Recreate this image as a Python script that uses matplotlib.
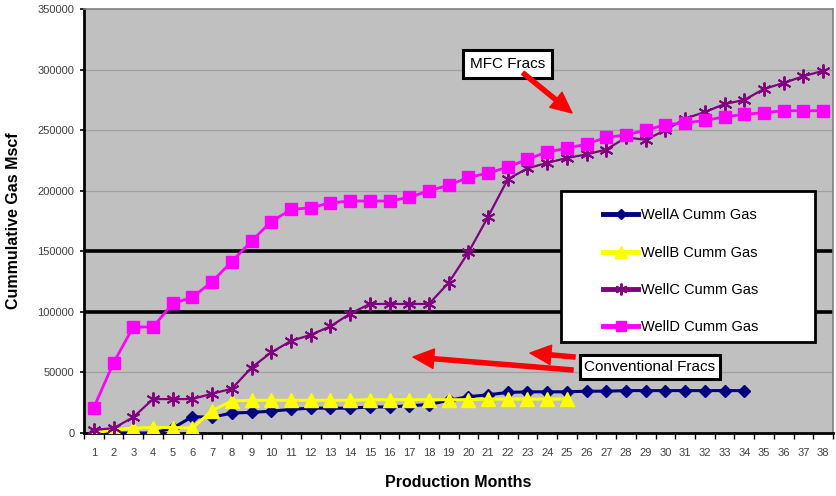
import matplotlib
matplotlib.use("Agg")
import matplotlib.pyplot as plt
from matplotlib.patches import Rectangle
from matplotlib.ticker import MultipleLocator, FixedLocator

plt.rcParams['font.family'] = ['Liberation Sans', 'DejaVu Sans']

# Cumulative gas production (Mscf) by production month
well_a = [0, 0, 0, 0, 4000, 13500, 13000, 16500, 17000, 18000, 19500, 20500,
          20500, 20500, 21500, 21500, 22500, 23500, 27000, 30000, 31500, 33500,
          34000, 34000, 34000, 34500, 34500, 35000, 35000, 35000, 35000, 35000,
          35000, 35000]
well_b = [0, 2500, 4000, 4500, 4500, 4000, 18500, 26500, 27000, 27000, 27000,
          27000, 27000, 27000, 27500, 27500, 27500, 27500, 27500, 27500, 28000,
          28000, 28000, 28000, 28000]
well_c = [2500, 4000, 13000, 28000, 28000, 28000, 32500, 36500, 54000, 66500,
          76000, 81000, 88000, 98500, 106500, 106500, 106500, 106500, 124000,
          149000, 178500, 209500, 218500, 223000, 227000, 230000, 234000, 244000,
          242000, 250000, 259500, 265000, 271500, 275000, 284000, 289000, 294500,
          299000]
well_d = [21000, 58000, 87500, 87500, 107000, 112000, 125000, 141500, 158500,
          174500, 184500, 186000, 190000, 191500, 191500, 191500, 194500, 200000,
          204500, 211000, 214500, 219500, 226000, 232000, 235000, 238500, 244000,
          246000, 250000, 254500, 256000, 258000, 261000, 263000, 264500, 266000,
          266000, 266000]

series_names = ["WellA Cumm Gas", "WellB Cumm Gas", "WellC Cumm Gas", "WellD Cumm Gas"]
month_labels = [str(m) for m in range(1, 39)]

fig = plt.figure(figsize=(8.36, 4.96), dpi=100)
ax = fig.add_axes([84 / 836, 63 / 496, 749 / 836, 424 / 496])
ax.set_facecolor('#C0C0C0')

# horizontal grid: thin grey lines, two heavy black ones
for v in [50000, 200000, 250000, 300000]:
    ax.axhline(v, color='#A0A0A0', lw=0.9, zorder=1)
for v in [100000, 150000]:
    ax.axhline(v, color='black', lw=2.6, zorder=1)

def months(vals):
    return list(range(1, len(vals) + 1))

ax.plot(months(well_a), well_a, color='#000080', lw=2.2, marker='D', ms=6,
        mec='#000080', mfc='#000080', label=series_names[0], zorder=3)
ax.plot(months(well_b), well_b, color='#FFFF00', lw=2.2, marker='^', ms=9.5,
        mec='#FFFF00', mfc='#FFFF00', label=series_names[1], zorder=4)
ax.plot(months(well_c), well_c, color='#800080', lw=1.6, marker=(6, 2, 0), ms=10,
        mew=1.4, mec='#800080', label=series_names[2], zorder=5)
ax.plot(months(well_d), well_d, color='#FF00FF', lw=2.0, marker='s', ms=8,
        mec='#FF00FF', mfc='#FF00FF', label=series_names[3], zorder=6)

ax.set_xlim(0.5, 38.5)
ax.set_ylim(0, 350000)

# y axis
ax.yaxis.set_major_locator(MultipleLocator(50000))
ax.set_yticklabels([str(int(v)) for v in ax.get_yticks()])
ax.tick_params(axis='y', which='major', direction='out', length=3, width=1.2,
               labelsize=8, labelcolor='#404040', pad=4)

# x axis: labels at category centres, tick marks between categories
ax.xaxis.set_major_locator(FixedLocator(range(1, 39)))
ax.set_xticklabels(month_labels)
ax.xaxis.set_minor_locator(FixedLocator([m + 0.5 for m in range(0, 39)]))
ax.tick_params(axis='x', which='major', length=0, labelsize=8,
               labelcolor='#404040', pad=11)
ax.tick_params(axis='x', which='minor', direction='out', length=4, width=1)

for side in ['left', 'bottom']:
    ax.spines[side].set_color('black')
    ax.spines[side].set_linewidth(2)
for side in ['top', 'right']:
    ax.spines[side].set_color('#808080')
    ax.spines[side].set_linewidth(1.2)

ax.set_xlabel("Production Months", fontsize=11.5, fontweight='bold', labelpad=12)
ax.set_ylabel("Cummulative Gas Mscf", fontsize=11.5, fontweight='bold', labelpad=12)

# legend panel
box = Rectangle((0.637, 0.215), 0.339, 0.356, transform=ax.transAxes,
                facecolor='white', edgecolor='black', lw=2, zorder=7)
ax.add_patch(box)
leg = ax.legend(loc='center', bbox_to_anchor=(0.797, 0.381), frameon=False,
                fontsize=10.5, handlelength=2.4, handletextpad=0.2,
                labelspacing=1.6, markerscale=0.85)
for line in leg.get_lines():
    line.set_linewidth(3.5)
leg.set_zorder(8)

# annotations
txt_box = dict(boxstyle='square,pad=0.45', facecolor='white', edgecolor='black', lw=2.2)
ax.text(22.0, 304600, "MFC Fracs", fontsize=11, ha='center', va='center',
        bbox=txt_box, zorder=9)
ax.text(29.2, 54500, "Conventional Fracs", fontsize=11, ha='center', va='center',
        bbox=dict(boxstyle='square,pad=0.3', facecolor='white', edgecolor='black', lw=2.2),
        zorder=9)

arrow = dict(facecolor='red', edgecolor='red', width=3, headwidth=14,
             headlength=15, shrink=0)
ax.annotate("", xy=(25.26, 264200), xytext=(22.77, 297200),
            arrowprops=arrow, zorder=10)
ax.annotate("", xy=(23.13, 66000), xytext=(25.41, 62700),
            arrowprops=arrow, zorder=10)
ax.annotate("", xy=(17.19, 62700), xytext=(25.31, 52000),
            arrowprops=arrow, zorder=10)

fig.savefig("out.png", dpi=100)
